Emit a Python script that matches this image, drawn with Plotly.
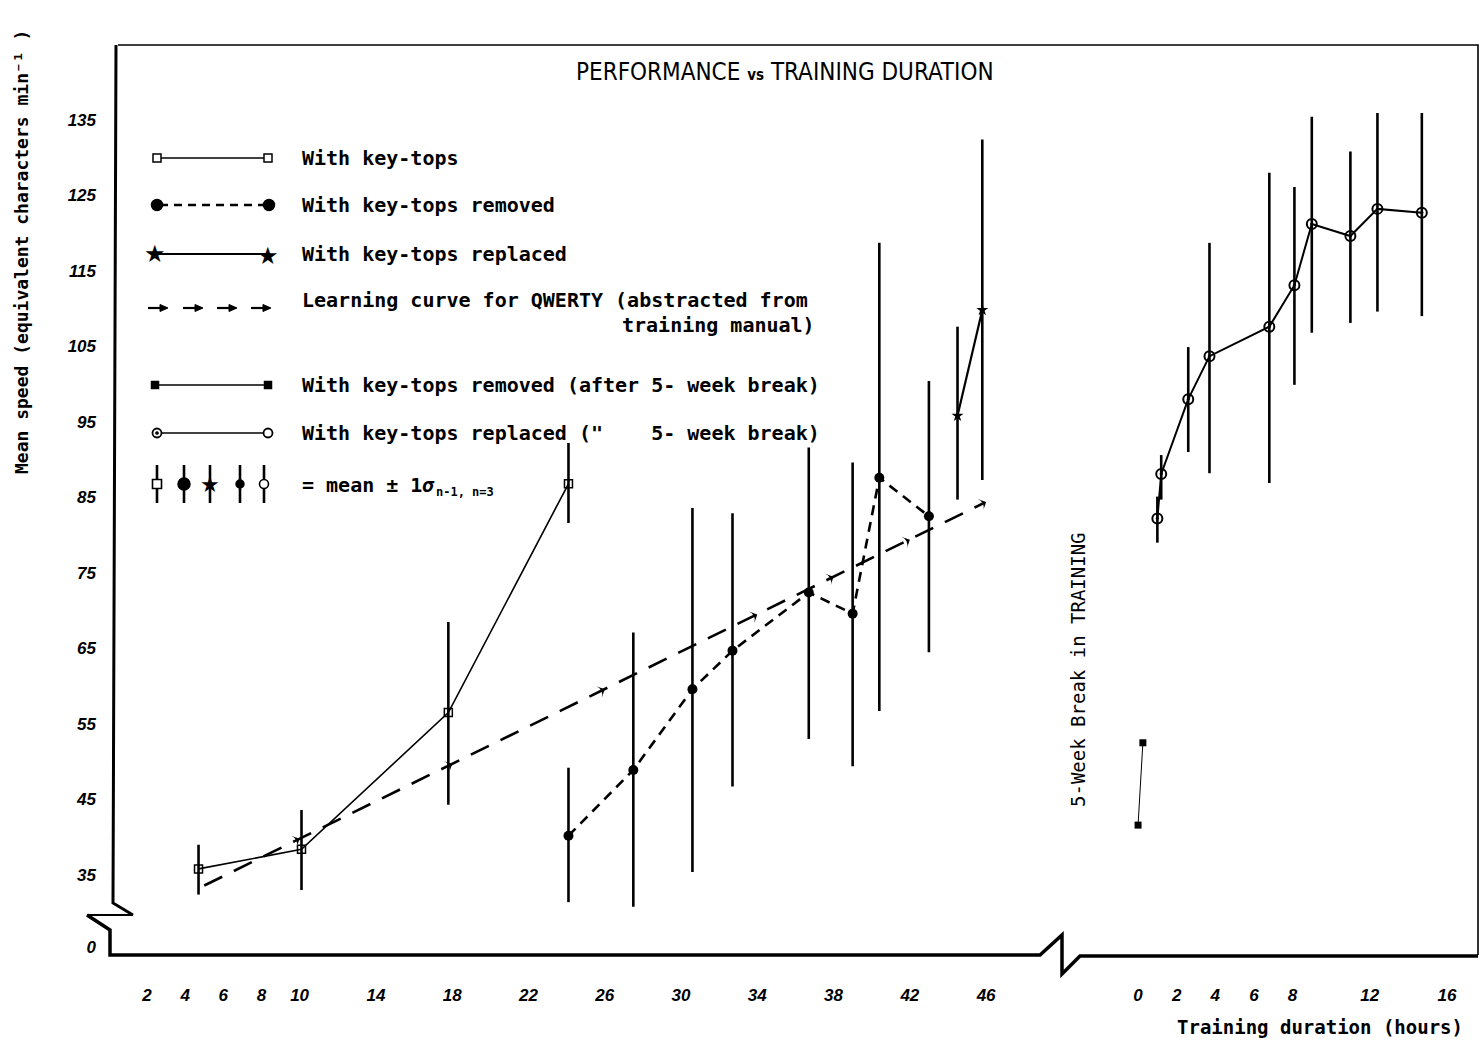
import plotly.graph_objects as go

# ---------------- data ----------------
LEFT_TICKS = [2, 4, 6, 8, 10, 14, 18, 22, 26, 30, 34, 38, 42, 46]
RIGHT_TICKS = [0, 2, 4, 6, 8, 12, 16]
Y_TICKS = [35, 45, 55, 65, 75, 85, 95, 105, 115, 125, 135]
Y_BREAK_LABEL = "0"

# With key-tops (open squares, solid)
keytops_x = [4.7, 10.1, 17.8, 24.1]
keytops_y = [35.8, 38.4, 56.5, 86.8]
keytops_up = [3.2, 5.2, 12.0, 5.4]
keytops_dn = [3.4, 5.4, 12.2, 5.2]

# With key-tops removed (filled circles, dashed)
removed_x = [24.1, 27.5, 30.6, 32.7, 36.7, 39.0, 40.4, 43.0]
removed_y = [40.2, 48.9, 59.6, 64.7, 72.4, 69.6, 87.6, 82.5]
removed_up = [9.0, 18.2, 24.0, 18.2, 19.2, 20.0, 31.1, 17.9]
removed_dn = [8.8, 18.1, 24.2, 18.0, 19.4, 20.2, 30.9, 18.0]

# With key-tops replaced (stars, solid)
replaced_x = [44.5, 45.8]
replaced_y = [95.8, 109.8]
replaced_up = [11.8, 22.6]
replaced_dn = [11.1, 22.5]

# Learning curve for QWERTY (abstracted from training manual)
qwerty_x = [5, 10, 18, 26, 34, 38, 42, 46]
qwerty_y = [33.6, 39.8, 49.7, 59.6, 69.5, 74.5, 79.4, 84.4]

# After 5-week break (right panel)
removed_after_x = [0.0, 0.25]
removed_after_y = [41.6, 52.5]

replaced_after_x = [1.0, 1.2, 2.6, 3.7, 6.8, 8.1, 9.0, 11.0, 12.4, 14.7]
replaced_after_y = [82.2, 88.1, 98.0, 103.7, 107.6, 113.1, 121.2, 119.6, 123.2, 122.7]
replaced_after_up = [2.9, 2.5, 6.9, 15.0, 20.4, 13.0, 14.2, 11.2, 12.7, 13.2]
replaced_after_dn = [3.2, 3.4, 7.0, 15.5, 20.7, 13.2, 14.4, 11.5, 13.6, 13.7]

LEGEND_LABELS = [
    "With key-tops",
    "With key-tops removed",
    "With key-tops replaced",
    "Learning curve for QWERTY (abstracted from",
    "training manual)",
    "With key-tops removed (after 5- week break)",
    "With key-tops replaced (\"\u00a0\u00a0\u00a0 5- week break)",
    "= mean \u00b1 1<i>\u03c3</i>",
    "n-1, n=3",
]

# ---------------- layout geometry ----------------
FW, FH = 1480, 1042
L, R, T, B = 115, 1478, 45, 955
W, H = R - L, B - T
Y_RANGE = [24.4, 144.9]
Y_BREAK_POS = 25.46
LEFT_RANGE = [0.32, 49.35]
RIGHT_RANGE = [-3.94, 17.61]
D1 = (1050 - L) / W
D2 = (1062 - L) / W

MONO = "DejaVu Sans Mono, Liberation Mono, monospace"
TICKF = "Liberation Sans, Arial, sans-serif"
TITLEF = "Liberation Sans Narrow, DejaVu Sans Condensed, Liberation Sans, sans-serif"


def px(x):
    return (x - L) / W


def py(y):
    return (B - y) / H


def err(up, dn):
    return dict(type="data", symmetric=False, array=up, arrayminus=dn,
                thickness=2.6, width=0, color="black")


fig = go.Figure()

fig.add_trace(go.Scatter(
    x=keytops_x, y=keytops_y, xaxis="x", yaxis="y", mode="lines+markers",
    line=dict(color="black", width=1.6),
    marker=dict(symbol="square-open", size=8, color="black", line=dict(width=1.5)),
    error_y=err(keytops_up, keytops_dn), name="With key-tops"))

fig.add_trace(go.Scatter(
    x=qwerty_x, y=qwerty_y, xaxis="x", yaxis="y", mode="lines+markers",
    line=dict(color="black", width=2.6, dash="20px,13px"),
    marker=dict(symbol="arrow-wide", size=9, color="black", angleref="previous"),
    name="Learning curve for QWERTY"))

fig.add_trace(go.Scatter(
    x=removed_x, y=removed_y, xaxis="x", yaxis="y", mode="lines+markers",
    line=dict(color="black", width=2.6, dash="10px,7px"),
    marker=dict(symbol="circle", size=10, color="black"),
    error_y=err(removed_up, removed_dn), name="With key-tops removed"))

fig.add_trace(go.Scatter(
    x=replaced_x, y=replaced_y, xaxis="x", yaxis="y", mode="lines+markers",
    line=dict(color="black", width=2.2),
    marker=dict(symbol="star", size=9, color="black"),
    error_y=err(replaced_up, replaced_dn), name="With key-tops replaced"))

fig.add_trace(go.Scatter(
    x=removed_after_x, y=removed_after_y, xaxis="x2", yaxis="y", mode="lines+markers",
    line=dict(color="black", width=1),
    marker=dict(symbol="square", size=7, color="black"),
    name="With key-tops removed (after 5-week break)"))

fig.add_trace(go.Scatter(
    x=replaced_after_x, y=replaced_after_y, xaxis="x2", yaxis="y", mode="lines+markers",
    line=dict(color="black", width=2),
    marker=dict(symbol="circle-open-dot", size=10, color="black", line=dict(width=2)),
    error_y=err(replaced_after_up, replaced_after_dn),
    name="With key-tops replaced (after 5-week break)"))

# ---------------- frame (broken axes) ----------------
shapes = []


def path(points, width, dash="solid", fill=None, close=False):
    d = "M " + " L ".join(f"{px(a):.5f},{py(b):.5f}" for a, b in points)
    if close:
        d += " Z"
    s = dict(type="path", path=d, xref="paper", yref="paper",
             line=dict(color="black", width=width, dash=dash))
    if fill:
        s["fillcolor"] = fill
    shapes.append(s)


path([(118, 45), (1478, 45), (1478, 955)], 1.6)
path([(116, 45), (113, 903), (133, 915)], 3)
path([(133, 915), (87, 915)], 2)
path([(87, 915), (110, 930), (110, 955), (1040, 955), (1062, 935),
      (1062, 974), (1080, 956), (1478, 956)], 3.5)

annotations = []


def ann(text, x, y, size=20, xanchor="left", yanchor="middle", family=MONO,
        angle=0, weight="bold"):
    annotations.append(dict(text=text, x=px(x), y=py(y), xref="paper", yref="paper",
                            showarrow=False, xanchor=xanchor, yanchor=yanchor,
                            textangle=angle,
                            font=dict(family=family, size=size, color="black",
                                      weight=weight)))


def vline(x, y0, y1, width):
    shapes.append(dict(type="line", xref="paper", yref="paper", x0=px(x), x1=px(x),
                       y0=py(y0), y1=py(y1), line=dict(color="black", width=width)))


def hline(x0, x1, y, width, dash="solid"):
    shapes.append(dict(type="line", xref="paper", yref="paper", x0=px(x0), x1=px(x1),
                       y0=py(y), y1=py(y), line=dict(color="black", width=width, dash=dash)))


def box(x, y, r, filled, kind="rect", lw=1.5):
    shapes.append(dict(type=kind, xref="paper", yref="paper",
                       x0=px(x - r), x1=px(x + r), y0=py(y + r), y1=py(y - r),
                       line=dict(color="black", width=lw),
                       fillcolor="black" if filled else "white"))


# legend rows
TX = 300
# 1 with key-tops
hline(157, 268, 158, 1.3)
box(157, 158, 4, False)
box(268, 158, 4, False)
ann(LEGEND_LABELS[0], TX, 158)
# 2 removed
hline(160, 266, 205, 2.4, dash="8px,6px")
box(157, 205, 5.5, True, "circle")
box(269, 205, 5.5, True, "circle")
ann(LEGEND_LABELS[1], TX, 205)
# 3 replaced
hline(157, 266, 254, 2)
ann("\u2605", 155, 254, size=24, xanchor="center", family="DejaVu Sans")
ann("\u2605", 268, 256, size=24, xanchor="center", family="DejaVu Sans")
ann(LEGEND_LABELS[2], TX, 254)
# 4 learning curve arrows (dash + small head)
for x0 in (148, 183, 217, 251):
    hline(x0, x0 + 14, 308, 2.2)
    path([(x0 + 12, 304.5), (x0 + 20, 308), (x0 + 12, 311.5)], 1, fill="black", close=True)
ann(LEGEND_LABELS[3], TX, 300)
ann(LEGEND_LABELS[4], 817, 325, xanchor="right")
# 5 removed after break
hline(155, 268, 385, 1.3)
box(155, 385, 3.5, True)
box(268, 385, 3.5, True)
ann(LEGEND_LABELS[5], TX, 385)
# 6 replaced after break
hline(158, 266, 433, 1.6)
box(157, 433, 4.5, False, "circle", 1.8)
box(157, 433, 1.6, True, "circle", 0.5)
box(268, 433, 4.5, False, "circle", 1.8)
ann(LEGEND_LABELS[6], TX, 433)
# 7 error-bar key
for xe in (157, 184, 210, 240, 264):
    vline(xe, 465, 503, 2.6)
box(157, 484, 4.5, False, "rect", 1.6)
box(184, 484, 6, True, "circle")
ann("\u2605", 210, 485, size=22, xanchor="center", family="DejaVu Sans")
box(240, 484, 4, True, "circle")
box(264, 484, 4.5, False, "circle", 1.6)
ann(LEGEND_LABELS[7], TX, 485)
ann(LEGEND_LABELS[8], 434, 492, size=12)

# titles and labels
ann("PERFORMANCE <span style='font-size:15px'><b>vs</b></span> TRAINING DURATION",
    785, 72, size=24, xanchor="center", family=TITLEF, weight="normal")
ann("Mean speed (equivalent characters min\u207b\u00b9 )", 22, 252, size=18,
    xanchor="center", angle=-90)
ann("Training duration (hours)", 1320, 1027, size=19, xanchor="center")
ann("5-Week Break in TRAINING", 1078, 670, size=19, xanchor="center", angle=-90,
    weight="normal")

tickfont = dict(family=TICKF, size=17, color="black", style="italic", weight="bold")

fig.update_layout(
    width=FW, height=FH, autosize=False,
    margin=dict(l=L, r=FW - R, t=T, b=FH - B),
    paper_bgcolor="white", plot_bgcolor="white",
    showlegend=False,
    xaxis=dict(domain=[0, D1], range=LEFT_RANGE, anchor="y",
               tickvals=LEFT_TICKS, ticktext=[str(v) for v in LEFT_TICKS],
               showgrid=False, zeroline=False, showline=False, ticks="",
               tickfont=tickfont, ticklabelstandoff=28),
    xaxis2=dict(domain=[D2, 1], range=RIGHT_RANGE, anchor="y",
                tickvals=RIGHT_TICKS, ticktext=[str(v) for v in RIGHT_TICKS],
                showgrid=False, zeroline=False, showline=False, ticks="",
                tickfont=tickfont, ticklabelstandoff=28),
    yaxis=dict(domain=[0, 1], range=Y_RANGE, anchor="x",
               tickvals=[Y_BREAK_POS] + Y_TICKS,
               ticktext=[Y_BREAK_LABEL] + [str(v) for v in Y_TICKS],
               showgrid=False, zeroline=False, showline=False, ticks="",
               tickfont=tickfont, ticklabelstandoff=18),
    shapes=shapes,
    annotations=annotations,
)

fig.write_html("out.html", config={"displayModeBar": False},
               post_script="document.body.style.margin='0';document.body.style.overflow='hidden';")
